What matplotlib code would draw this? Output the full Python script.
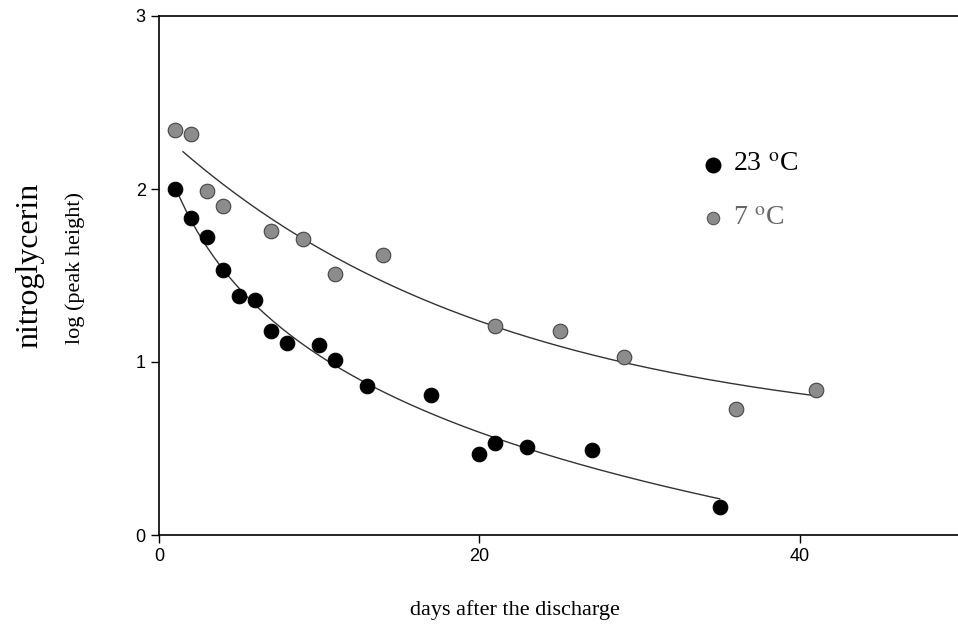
import numpy as np
import matplotlib
matplotlib.use("Agg")
import matplotlib.pyplot as plt

plt.rcParams['mathtext.fontset'] = 'stix'

# 23 °C series
days_23 = [1, 2, 3, 4, 5, 6, 7, 8, 10, 11, 13, 17, 20, 21, 23, 27, 35]
logph_23 = [2.00, 1.83, 1.72, 1.53, 1.38, 1.36, 1.18, 1.11, 1.10, 1.01, 0.86, 0.81, 0.47, 0.53, 0.51, 0.49, 0.16]

# 7 °C series
days_7 = [1, 2, 3, 4, 7, 9, 11, 14, 21, 25, 29, 36, 41]
logph_7 = [2.34, 2.32, 1.99, 1.90, 1.76, 1.71, 1.51, 1.62, 1.21, 1.18, 1.03, 0.73, 0.84]

xticks = [0, 20, 40]
yticks = [0, 1, 2, 3]


def fit_decay(x, y):
    # y = c + a*exp(-k x), k by grid search, a/c by least squares
    x = np.asarray(x, float); y = np.asarray(y, float)
    best = None
    for k in np.linspace(0.005, 0.3, 600):
        A = np.column_stack([np.exp(-k * x), np.ones_like(x)])
        coef, *_ = np.linalg.lstsq(A, y, rcond=None)
        err = np.sum((A @ coef - y) ** 2)
        if best is None or err < best[0]:
            best = (err, k, coef)
    _, k, (a, c) = best
    return lambda t: c + a * np.exp(-k * t)


def fit_log(x, y):
    # y = a + b*ln(x + d), d by grid search
    x = np.asarray(x, float); y = np.asarray(y, float)
    best = None
    for d in np.linspace(0.0, 30.0, 601):
        A = np.column_stack([np.ones_like(x), np.log(x + d)])
        coef, *_ = np.linalg.lstsq(A, y, rcond=None)
        err = np.sum((A @ coef - y) ** 2)
        if best is None or err < best[0]:
            best = (err, d, coef)
    _, d, (a, b) = best
    return lambda t: a + b * np.log(t + d)


fig = plt.figure(figsize=(9.58, 6.29), dpi=100)
ax = fig.add_axes([159 / 958, 94 / 629, 801 / 958, 519 / 629])

f23 = fit_log(days_23, logph_23)
f7 = fit_decay(days_7, logph_7)
t23 = np.linspace(1, 35, 200)
t7 = np.linspace(1.5, 41, 200)
ax.plot(t23, f23(t23), color='#333333', lw=1.0, zorder=2)
ax.plot(t7, f7(t7), color='#333333', lw=1.0, zorder=2)

ax.scatter(days_23, logph_23, s=110, color='black', edgecolor='black', lw=0.8, zorder=3)
ax.scatter(days_7, logph_7, s=110, color='#8c8c8c', edgecolor='#444444', lw=0.8, zorder=3)

# legend
ax.scatter([34.6], [2.14], s=110, color='black', zorder=3)
ax.scatter([34.6], [1.83], s=80, color='#8c8c8c', edgecolor='#555555', lw=0.8, zorder=3)
ax.text(35.8, 2.14, r'23 $^{\mathrm{o}}$C', family='Liberation Serif', fontsize=20, va='center', color='black')
ax.text(35.8, 1.83, r'7 $^{\mathrm{o}}$C', family='Liberation Serif', fontsize=20, va='center', color='#666666')

ax.set_xlim(0, 50)
ax.set_ylim(0, 3)
ax.set_xticks(xticks)
ax.set_yticks(yticks)
ax.spines['right'].set_visible(False)
for s in ['left', 'bottom', 'top']:
    ax.spines[s].set_linewidth(1.2)
ax.tick_params(direction='out', length=6, width=1.0, labelsize=13)
for lab in ax.get_xticklabels() + ax.get_yticklabels():
    lab.set_family('Liberation Sans')

fig.text(30 / 958, 1 - 265 / 629, 'nitroglycerin', family='Liberation Serif', fontsize=23,
         rotation=90, ha='center', va='center')
fig.text(75 / 958, 1 - 268 / 629, 'log (peak height)', family='Liberation Serif', fontsize=16,
         rotation=90, ha='center', va='center')
fig.text(515 / 958, 1 - 610 / 629, 'days after the discharge', family='Liberation Serif', fontsize=16,
         ha='center', va='center')

plt.savefig('out.png', dpi=100)
